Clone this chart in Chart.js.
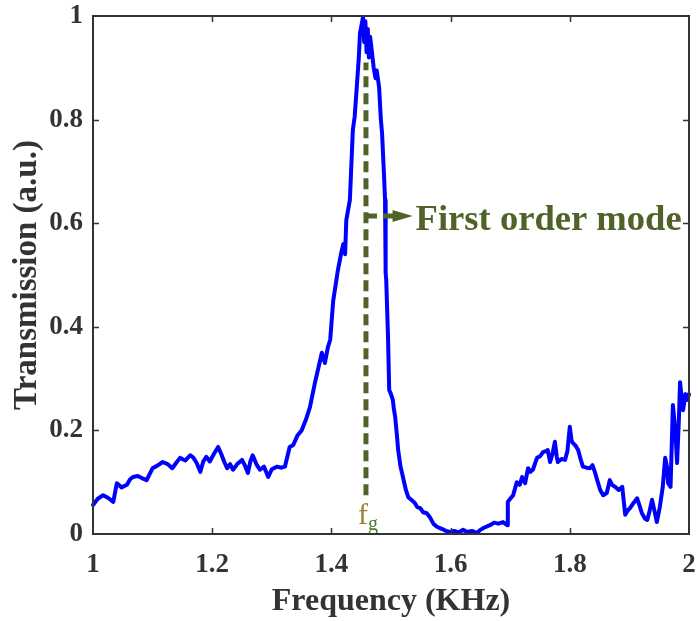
<!DOCTYPE html>
<html><head><meta charset="utf-8">
<script src="https://cdn.jsdelivr.net/npm/chart.js@4"></script>
<style>html,body{margin:0;padding:0;background:#fff}#wrap{width:698px;height:621px}</style>
</head><body><div id="wrap"><canvas id="c" width="698" height="621"></canvas></div>
<script>
// ---- data ----
const frequency = [
1.000,1.008,1.017,1.025,1.034,1.040,1.048,1.057,1.062,1.067,1.075,1.082,1.090,1.100,1.108,1.117,1.125,1.133,1.140,1.146,
1.155,1.163,1.168,1.174,1.180,1.185,1.190,1.196,1.203,1.210,1.215,1.220,1.225,1.230,1.235,1.242,1.250,1.255,1.260,1.264,
1.268,1.274,1.280,1.287,1.294,1.300,1.309,1.315,1.322,1.330,1.336,1.343,1.350,1.357,1.364,1.372,1.378,1.384,1.389,1.394,
1.398,1.403,1.407,1.411,1.416,1.420,1.423,1.425,1.431,1.436,1.439,1.443,1.446,1.448,1.451,1.453,1.455,1.457,1.459,1.461,
1.463,1.465,1.468,1.471,1.474,1.476,1.480,1.483,1.485,1.488,1.490,1.491,1.492,1.495,1.497,1.500,1.503,1.505,1.507,1.510,
1.512,1.516,1.520,1.525,1.529,1.535,1.540,1.544,1.549,1.554,1.560,1.565,1.571,1.577,1.585,1.592,1.599,1.606,1.613,1.621,
1.628,1.636,1.644,1.650,1.656,1.666,1.673,1.680,1.688,1.695,1.696,1.700,1.705,1.711,1.716,1.720,1.725,1.730,1.734,1.738,
1.745,1.750,1.755,1.760,1.763,1.767,1.771,1.775,1.778,1.780,1.786,1.792,1.796,1.800,1.803,1.805,1.810,1.814,1.818,1.822,
1.828,1.834,1.838,1.842,1.846,1.851,1.856,1.862,1.867,1.871,1.876,1.882,1.888,1.893,1.897,1.901,1.907,1.913,1.917,1.921,
1.926,1.930,1.934,1.938,1.942,1.946,1.951,1.956,1.960,1.963,1.965,1.969,1.973,1.977,1.980,1.983,1.985,1.988,1.990,1.994,
1.997,2.000];
const transmission = [
0.056,0.068,0.075,0.070,0.062,0.098,0.090,0.095,0.105,0.110,0.112,0.108,0.104,0.127,0.132,0.139,0.135,0.127,0.138,0.147,
0.142,0.152,0.148,0.137,0.120,0.140,0.149,0.140,0.155,0.168,0.155,0.140,0.127,0.135,0.124,0.135,0.143,0.132,0.118,0.140,
0.152,0.135,0.124,0.130,0.110,0.125,0.130,0.128,0.130,0.168,0.172,0.190,0.200,0.220,0.245,0.290,0.320,0.350,0.330,0.360,
0.375,0.450,0.480,0.510,0.540,0.560,0.540,0.606,0.645,0.780,0.805,0.870,0.920,0.967,0.985,0.998,0.950,0.990,0.930,0.975,
0.920,0.960,0.930,0.900,0.880,0.895,0.863,0.800,0.774,0.700,0.645,0.504,0.490,0.380,0.278,0.270,0.259,0.240,0.226,0.190,
0.162,0.130,0.110,0.085,0.071,0.065,0.060,0.052,0.050,0.042,0.040,0.033,0.020,0.014,0.010,0.006,0.004,0.006,0.003,0.008,
0.004,0.006,0.002,0.008,0.012,0.017,0.022,0.020,0.023,0.017,0.062,0.068,0.075,0.100,0.095,0.110,0.098,0.127,0.120,0.124,
0.147,0.150,0.158,0.160,0.162,0.139,0.155,0.178,0.150,0.139,0.145,0.143,0.160,0.207,0.180,0.176,0.170,0.162,0.145,0.130,
0.128,0.127,0.133,0.120,0.104,0.085,0.075,0.079,0.104,0.095,0.091,0.085,0.091,0.037,0.045,0.050,0.060,0.069,0.055,0.040,
0.030,0.027,0.045,0.066,0.045,0.023,0.052,0.091,0.147,0.130,0.098,0.091,0.249,0.200,0.137,0.220,0.293,0.260,0.239,0.270,
0.259,0.270];
const xTicks = [1, 1.2, 1.4, 1.6, 1.8, 2];
const yTicks = [0, 0.2, 0.4, 0.6, 0.8, 1];
// annotation (data units)
const modeFreq = 1.458;
const modeLineFrom = 0.075, modeLineTo = 0.91;
const arrowLevel = 0.614;
const arrowTo = 1.506;
const annotationText = 'First order mode';

const OLIVE = '#4f6228';
const AXIS = '#333333';
const SERIF = '"Liberation Serif", "Times New Roman", serif';

const frame = {
  id: 'frame',
  afterDraw(chart) {
    const {ctx, chartArea: a, scales: {x, y}} = chart;
    ctx.save();
    ctx.strokeStyle = AXIS;
    ctx.lineWidth = 1.5;
    ctx.beginPath();
    xTicks.slice(1, -1).forEach(v => {
      const px = Math.round(x.getPixelForValue(v)) + 0.5;
      ctx.moveTo(px, a.bottom); ctx.lineTo(px, a.bottom - 6);
      ctx.moveTo(px, a.top); ctx.lineTo(px, a.top + 6);
    });
    yTicks.slice(1, -1).forEach(v => {
      const py = Math.round(y.getPixelForValue(v)) + 0.5;
      ctx.moveTo(a.left, py); ctx.lineTo(a.left + 6, py);
      ctx.moveTo(a.right, py); ctx.lineTo(a.right - 6, py);
    });
    ctx.stroke();
    ctx.lineWidth = 2;
    ctx.strokeRect(a.left, a.top, a.right - a.left, a.bottom - a.top);
    ctx.restore();
  }
};

const notes = {
  id: 'notes',
  afterDatasetsDraw(chart) {
    const {ctx, scales: {x, y}} = chart;
    ctx.save();
    const hx = x.getPixelForValue(arrowTo), hy = y.getPixelForValue(arrowLevel);
    ctx.fillStyle = OLIVE;
    ctx.beginPath();
    ctx.moveTo(hx - 2, hy - 6); ctx.lineTo(hx + 18, hy); ctx.lineTo(hx - 2, hy + 6); ctx.closePath();
    ctx.fill();
    ctx.font = 'bold 36.6px ' + SERIF;
    ctx.textBaseline = 'alphabetic';
    ctx.textAlign = 'left';
    ctx.fillText(annotationText, hx + 21, hy + 14);
    const fx = x.getPixelForValue(modeFreq);
    const fy = y.getPixelForValue(0);
    ctx.font = '30px ' + SERIF;
    ctx.fillStyle = '#9a8436';
    ctx.textAlign = 'center';
    ctx.fillText('f', fx - 3, fy - 10);
    ctx.font = '20px ' + SERIF;
    ctx.fillStyle = '#4f7a2a';
    ctx.fillText('g', fx + 7, fy - 4);
    ctx.restore();
  }
};

const fmt = v => String(Number(Number(v).toFixed(2)));

new Chart(document.getElementById('c'), {
  type: 'line',
  data: {
    datasets: [
      {
        data: [{x: modeFreq, y: modeLineFrom}, {x: modeFreq, y: modeLineTo}],
        borderColor: OLIVE, borderWidth: 5, borderDash: [11, 6], pointRadius: 0
      },
      {
        data: [{x: modeFreq, y: arrowLevel}, {x: arrowTo, y: arrowLevel}],
        borderColor: OLIVE, borderWidth: 5, borderDash: [11, 6], pointRadius: 0
      },
      {
        data: frequency.map((f, i) => ({x: f, y: transmission[i]})),
        borderColor: '#0000ff', borderWidth: 4, pointRadius: 0, tension: 0,
        borderJoinStyle: 'round', borderCapStyle: 'round'
      }
    ]
  },
  options: {
    responsive: false, animation: false, devicePixelRatio: 1,
    clip: false,
    layout: {padding: {top: 16, right: 9, left: 0, bottom: 0}},
    plugins: {legend: {display: false}, tooltip: {enabled: false}},
    scales: {
      x: {
        type: 'linear', min: 1, max: 2,
        afterBuildTicks: s => { s.ticks = xTicks.map(v => ({value: v})); },
        afterFit: s => { s.height = 87; s.paddingLeft = 0; s.paddingRight = 0; },
        grid: {display: false, drawTicks: false},
        border: {display: false},
        ticks: {color: AXIS, padding: 18, maxRotation: 0, autoSkip: false,
          font: {family: SERIF, size: 27, weight: 'bold', lineHeight: 1}, callback: fmt},
        title: {display: true, text: 'Frequency (KHz)', color: AXIS,
          font: {family: SERIF, size: 32, weight: 'bold', lineHeight: 1.2}, padding: {top: 0, bottom: 0}}
      },
      y: {
        type: 'linear', min: 0, max: 1,
        afterBuildTicks: s => { s.ticks = yTicks.map(v => ({value: v})); },
        afterFit: s => { s.width = 93; s.paddingTop = 0; s.paddingBottom = 0; },
        grid: {display: false, drawTicks: false},
        border: {display: false},
        ticks: {color: AXIS, padding: 10, autoSkip: false,
          font: {family: SERIF, size: 27, weight: 'bold', lineHeight: 1}, callback: fmt},
        title: {display: true, text: 'Transmission (a.u.)', color: AXIS,
          font: {family: SERIF, size: 33, weight: 'bold', lineHeight: 1.2}, padding: {top: 8, bottom: 0}}
      }
    }
  },
  plugins: [frame, notes]
});
</script>
</body></html>
